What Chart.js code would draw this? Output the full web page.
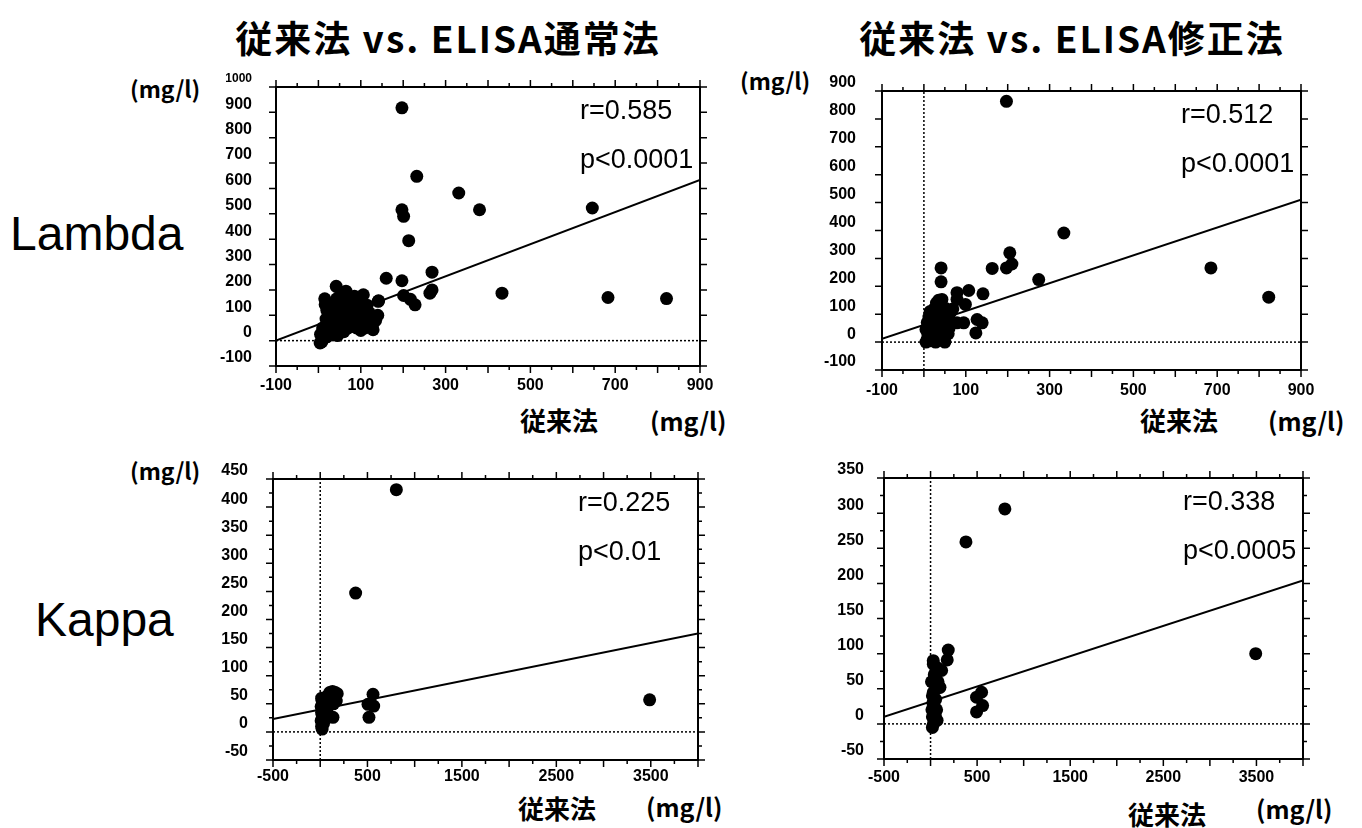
<!DOCTYPE html>
<html><head><meta charset="utf-8">
<script src="https://cdn.jsdelivr.net/npm/chart.js@4/dist/chart.umd.min.js"></script>
<style>
body{margin:0;background:#fff;width:1362px;height:828px;position:relative;overflow:hidden;}
.t{position:absolute;white-space:nowrap;color:#000;line-height:1;transform:translateY(-50%);}
.jp{font-family:'Noto Sans CJK JP',sans-serif;font-weight:bold;}
.c{transform:translate(-50%,-50%);}
.row{font-family:'Liberation Sans',Arial,sans-serif;font-size:48px;}
canvas{position:absolute;}
</style></head><body>
<div class="t jp c" style="left:448px;top:37px;font-size:37px;letter-spacing:2px;">従来法 vs. ELISA通常法</div>
<div class="t jp c" style="left:1072px;top:37px;font-size:37px;letter-spacing:2px;">従来法 vs. ELISA修正法</div>
<div class="t row" style="left:10px;top:234px;">Lambda</div>
<div class="t row" style="left:35px;top:620px;">Kappa</div>
<div class="t jp" style="left:130px;top:88px;font-size:23px;">(mg/l)</div>
<div class="t jp" style="left:740px;top:80px;font-size:23px;">(mg/l)</div>
<div class="t jp" style="left:130px;top:470px;font-size:23px;">(mg/l)</div>
<div class="t jp" style="left:520px;top:420px;font-size:26px;">従来法</div>
<div class="t jp" style="left:650px;top:420px;font-size:25px;">(mg/l)</div>
<div class="t jp" style="left:1140px;top:420px;font-size:26px;">従来法</div>
<div class="t jp" style="left:1268px;top:420px;font-size:25px;">(mg/l)</div>
<div class="t jp" style="left:518px;top:808px;font-size:26px;">従来法</div>
<div class="t jp" style="left:646px;top:806px;font-size:25px;">(mg/l)</div>
<div class="t jp" style="left:1128px;top:814px;font-size:26px;">従来法</div>
<div class="t jp" style="left:1256px;top:808px;font-size:25px;">(mg/l)</div>
<canvas id="c1"></canvas><canvas id="c2"></canvas><canvas id="c3"></canvas><canvas id="c4"></canvas>
<script>
// ---- Lambda: conventional vs ELISA normal ----
const lambdaNormalX = [197,232,331,380,646,197,201,213,160,197,268,268,263,433,683,821,201,217,228,142,
  42,55,106,141,16,122,129,4,10,12,15,10,20,25,30,35,40,45,50,60,70,80,90,85,75,65,55,45,100,110,120,95,60,30,20,8,50,70,90,110,130,115,100,85,25,35,140,135,
  5,18,28,38,48,58,68,78,88,98,108,118,33,43,53,63,73,83,93,103,113,123,20,40,60,80,100,15,65,105];
const lambdaNormalY = [918,648,582,516,523,516,490,394,246,236,270,200,187,187,170,166,178,163,141,157,
  214,188,181,155,142,96,43,-9,5,20,35,50,60,45,25,70,90,110,130,150,170,140,120,100,80,60,40,20,60,80,110,130,100,80,15,-5,75,50,50,50,70,140,160,175,100,120,100,80,
  25,85,55,105,145,120,90,110,70,95,100,65,145,165,185,170,135,155,85,140,125,95,120,30,35,65,40,165,195,125];
const lambdaNormalFitX = [-100, 900];
const lambdaNormalFitY = [0, 634];

// ---- Lambda: conventional vs ELISA modified ----
const lambdaModX = [197,334,685,823,205,210,197,163,274,141,107,79,79,99,69,41,41,43,127,139,124,95,79,
  5,8,10,12,15,18,20,25,30,35,40,45,50,55,60,40,30,25,35,45,20,50,15,28,38,60,65,8,5,22,
  12,18,25,32,38,45,52,58,15,28];
const lambdaModY = [863,391,266,161,320,280,266,264,224,173,185,177,153,135,119,266,216,153,81,69,33,69,69,
  0,10,25,40,60,80,100,120,140,150,130,110,90,70,50,60,40,20,10,25,5,0,110,75,95,85,110,70,45,50,
  90,30,65,105,15,45,120,30,5,0];
const lambdaModFitX = [-100, 900];
const lambdaModFitY = [12, 510];

// ---- Kappa: conventional vs ELISA normal ----
const kappaNormalX = [806,375,3488,559,566,516,506,135,
  20,15,25,10,30,20,15,25,10,30,20,15,35,50,70,80,
  100,130,160,180,150,120,90,60,170,140];
const kappaNormalY = [431,247,57,67,46,26,49,26,
  5,10,15,20,25,30,35,40,45,50,55,60,15,25,40,55,
  70,72,70,68,60,62,65,62,55,50];
const kappaNormalFitX = [-500, 4000];
const kappaNormalFitY = [23, 175];

// ---- Kappa: conventional vs ELISA modified ----
const kappaModX = [798,380,3492,190,179,119,101,548,494,559,494,29,
  20,30,40,20,35,50,15,40,25,45,20,30,60,10,50,40,60,30,70,80,90,55,65,70];
const kappaModY = [306,259,100,105,91,76,52,45,38,26,17,90,
  -5,0,5,10,15,12,20,25,30,35,40,45,50,60,65,70,75,85,80,60,52,35,20,5];
const kappaModFitX = [-500, 4000];
const kappaModFitY = [10, 204];

// ---- tick labels ----
const lambdaXTicks = [-100,100,300,500,700,900];
const lambdaNormalYTicks = [-100,0,100,200,300,400,500,600,700,800,900,1000];
const lambdaModYTicks = [-100,0,100,200,300,400,500,600,700,800,900];
const kappaXTicks = [-500,500,1500,2500,3500];
const kappaNormalYTicks = [-50,0,50,100,150,200,250,300,350,400,450];
const kappaModYTicks = [-50,0,50,100,150,200,250,300,350];

// ---- statistics text ----
const statR = ['r=0.585','r=0.512','r=0.225','r=0.338'];
const statP = ['p<0.0001','p<0.0001','p<0.01','p<0.0005'];

function range(a,b,s){const o=[];for(let v=a;v<=b+1e-9;v+=s)o.push(v);return o;}

function makePanel(id, frame, cfg){
  const L=90,T=20,R=25,B=40;
  const cv=document.getElementById(id);
  const w=frame.r-frame.l+L+R, h=frame.b-frame.t+T+B;
  cv.width=w; cv.height=h;
  cv.style.left=(frame.l-L)+'px'; cv.style.top=(frame.t-T)+'px';
  cv.style.width=w+'px'; cv.style.height=h+'px';
  const tickFont={family:"'Liberation Sans', Arial, sans-serif", size:16, weight:'bold'};
  const datasets=[
    {type:'scatter',data:cfg.xs.map((x,i)=>({x:x,y:cfg.ys[i]})),pointRadius:6.5,pointBackgroundColor:'#000',pointBorderWidth:0,order:1},
    {type:'line',data:cfg.fitX.map((x,i)=>({x:x,y:cfg.fitY[i]})),borderColor:'#000',borderWidth:2,pointRadius:0,order:2},
    {type:'line',data:[{x:cfg.xmin,y:0},{x:cfg.xmax,y:0}],borderColor:'#000',borderWidth:1.5,borderDash:[2,2],pointRadius:0,order:3}
  ];
  if(cfg.vline){
    datasets.push({type:'line',data:[{x:0,y:cfg.ymin},{x:0,y:cfg.ymax}],borderColor:'#000',borderWidth:1.5,borderDash:[2,2],pointRadius:0,order:3});
  }
  const deco={
    id:'deco_'+id,
    afterDraw(chart){
      const c=chart.ctx, a=chart.chartArea, sx=chart.scales.x, sy=chart.scales.y;
      c.save();
      c.strokeStyle='#000';
      c.lineWidth=2;
      c.strokeRect(a.left,a.top,a.right-a.left,a.bottom-a.top);
      c.lineWidth=1.5;
      const drawX=(vals,len)=>vals.forEach(v=>{const p=sx.getPixelForValue(v);
        c.beginPath();c.moveTo(p,a.bottom);c.lineTo(p,a.bottom+len);c.moveTo(p,a.top);c.lineTo(p,a.top-len);c.stroke();});
      const drawY=(vals,len)=>vals.forEach(v=>{const p=sy.getPixelForValue(v);
        c.beginPath();c.moveTo(a.left,p);c.lineTo(a.left-len,p);c.moveTo(a.right,p);c.lineTo(a.right+len,p);c.stroke();});
      drawX(cfg.xMajor,7);drawX(cfg.xMinor,4);drawY(cfg.yMajor,7);drawY(cfg.yMinor,4);
      c.fillStyle='#000';
      c.font="27px 'Liberation Sans', Arial, sans-serif";
      c.textBaseline='middle';c.textAlign='left';
      c.fillText(cfg.r,a.right-120,a.top+25);
      c.fillText(cfg.p,a.right-120,a.top+74);
      c.restore();
    }
  };
  return new Chart(cv,{
    data:{datasets},
    options:{
      responsive:false,animation:false,
      layout:{padding:{left:0,top:T,right:R,bottom:0}},
      plugins:{legend:{display:false},tooltip:{enabled:false}},
      scales:{
        x:{type:'linear',min:cfg.xmin,max:cfg.xmax,
          afterFit:s=>{s.height=B;s.paddingLeft=0;s.paddingRight=0;},
          afterBuildTicks:s=>{s.ticks=cfg.xTicks.map(v=>({value:v}));},
          grid:{display:false,drawTicks:false},border:{display:false},
          ticks:{padding:cfg.xPad,color:'#000',font:tickFont,maxRotation:0,autoSkip:false,callback:v=>String(v)}},
        y:{type:'linear',min:cfg.ymin,max:cfg.ymax,
          afterFit:s=>{s.width=L;s.paddingTop=0;s.paddingBottom=0;},
          afterBuildTicks:s=>{s.ticks=cfg.yTicks.map(v=>({value:v}));},
          grid:{display:false,drawTicks:false},border:{display:false},
          ticks:{padding:cfg.yPad,labelOffset:-8,color:'#000',autoSkip:false,callback:v=>String(v),
            font:ctx=>(ctx.tick&&ctx.tick.value===1000)?{family:tickFont.family,size:12,weight:'bold'}:tickFont}}
      }
    },
    plugins:[deco]
  });
}

makePanel('c1',{l:276,r:700,t:87,b:366},{
  xs:lambdaNormalX,ys:lambdaNormalY,fitX:lambdaNormalFitX,fitY:lambdaNormalFitY,
  xmin:-100,xmax:900,ymin:-100,ymax:1000,xTicks:lambdaXTicks,yTicks:lambdaNormalYTicks,
  xMajor:range(-100,900,100),xMinor:range(-50,850,100),yMajor:range(-100,1000,100),yMinor:[],
  vline:false,r:statR[0],p:statP[0],xPad:10,yPad:24});
makePanel('c2',{l:882,r:1301,t:91,b:370},{
  xs:lambdaModX,ys:lambdaModY,fitX:lambdaModFitX,fitY:lambdaModFitY,
  xmin:-100,xmax:900,ymin:-100,ymax:900,xTicks:lambdaXTicks,yTicks:lambdaModYTicks,
  xMajor:range(-100,900,100),xMinor:range(-50,850,100),yMajor:range(-100,900,100),yMinor:[],
  vline:true,r:statR[1],p:statP[1],xPad:11,yPad:26});
makePanel('c3',{l:273,r:698,t:479,b:760},{
  xs:kappaNormalX,ys:kappaNormalY,fitX:kappaNormalFitX,fitY:kappaNormalFitY,
  xmin:-500,xmax:4000,ymin:-50,ymax:450,xTicks:kappaXTicks,yTicks:kappaNormalYTicks,
  xMajor:range(-500,4000,500),xMinor:range(-250,3750,500),yMajor:range(-50,450,50),yMinor:range(-25,425,50),
  vline:true,r:statR[2],p:statP[2],xPad:7,yPad:25});
makePanel('c4',{l:884,r:1303,t:478,b:759},{
  xs:kappaModX,ys:kappaModY,fitX:kappaModFitX,fitY:kappaModFitY,
  xmin:-500,xmax:4000,ymin:-50,ymax:350,xTicks:kappaXTicks,yTicks:kappaModYTicks,
  xMajor:range(-500,4000,500),xMinor:range(-250,3750,500),yMajor:range(-50,350,50),yMinor:range(-25,325,50),
  vline:true,r:statR[3],p:statP[3],xPad:9,yPad:20});
</script>
</body></html>
